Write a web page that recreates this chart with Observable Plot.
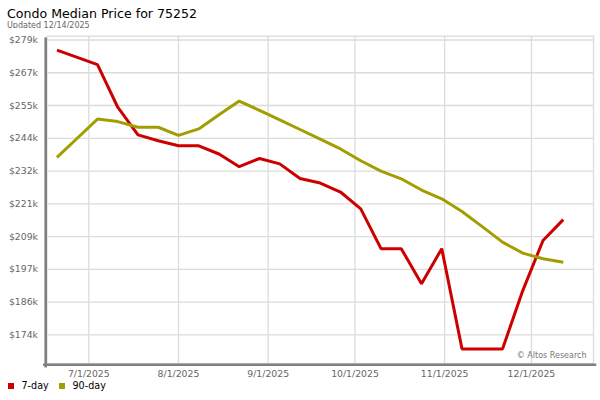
<!DOCTYPE html>
<html><head><meta charset="utf-8">
<script src="https://cdn.jsdelivr.net/npm/d3@7"></script>
<script src="https://cdn.jsdelivr.net/npm/@observablehq/plot@0.6"></script>
<style>
body{margin:0;background:#fff;font-family:"DejaVu Sans",sans-serif;}
#wrap{position:relative;width:600px;height:400px;overflow:hidden;background:#fff}
#title{position:absolute;left:7px;top:7.4px;font-size:12.6px;line-height:13px;color:#000;white-space:nowrap}
#sub{position:absolute;left:7px;top:20.6px;font-size:8px;line-height:9px;color:#666;white-space:nowrap}
#chart{position:absolute;left:0;top:28px}
#legend{position:absolute;left:0;top:380px;font-size:9.6px;line-height:12px;color:#000;white-space:nowrap}
.sw{position:absolute;top:3px;width:5.5px;height:5.5px}
.lt{position:absolute;top:0}
</style>
</head><body>
<div id="wrap">
  <div id="title">Condo Median Price for 75252</div>
  <div id="sub">Updated 12/14/2025</div>
  <div id="chart"></div>
  <div id="legend"></div>
</div>
<script>
// ---- data ----
const dates = ["2025-06-20","2025-06-27","2025-07-04","2025-07-11","2025-07-18","2025-07-25",
  "2025-08-01","2025-08-08","2025-08-15","2025-08-22","2025-08-29","2025-09-05","2025-09-12",
  "2025-09-19","2025-09-26","2025-10-03","2025-10-10","2025-10-17","2025-10-24","2025-10-31",
  "2025-11-07","2025-11-14","2025-11-21","2025-11-28","2025-12-05","2025-12-12"];
const day7 = [275100,272500,269900,254800,245000,242900,241100,241100,238200,233700,236600,234700,229500,
  227900,224700,218700,204600,204600,192100,204600,169000,169000,169000,189700,207500,214900];
const day90 = [237000,243800,250600,249700,247700,247700,244800,247100,252100,257000,253700,250300,246900,
  243500,240000,235800,232100,229400,225400,222300,217800,212400,206900,203000,201000,199800];
const yTickValues = [174000,185630,197260,208890,220520,232150,243780,255410,267040,278670];
const yTickLabels = ["$174k","$186k","$197k","$209k","$221k","$232k","$244k","$255k","$267k","$279k"];
const xTickDates = ["2025-07-01","2025-08-01","2025-09-01","2025-10-01","2025-11-01","2025-12-01"];
const xTickLabels = ["7/1/2025","8/1/2025","9/1/2025","10/1/2025","11/1/2025","12/1/2025"];
const seriesNames = ["7-day","90-day"];
const seriesColors = ["#cc0000","#a39e00"];

// ---- build ----
const parse = s => new Date(s + "T00:00:00Z");
const rows = [];
dates.forEach((d,i) => {
  rows.push({date: parse(d), value: day7[i], series: seriesNames[0]});
  rows.push({date: parse(d), value: day90[i], series: seriesNames[1]});
});
const xTicks = xTickDates.map(parse);
const xLabel = new Map(xTicks.map((d,i)=>[+d, xTickLabels[i]]));
const yLabel = new Map(yTickValues.map((v,i)=>[v, yTickLabels[i]]));

const chart = Plot.plot({
  width: 600,
  height: 354,
  marginLeft: 46.5,
  marginRight: 7,
  marginTop: 7.7,
  marginBottom: 19,
  style: {fontFamily: "DejaVu Sans, sans-serif", background: "#fff"},
  x: {type: "utc", domain: [new Date("2025-06-16T13:12:00Z"), new Date("2025-12-22T10:48:00Z")]},
  y: {domain: [163820, 280020]},
  color: {domain: seriesNames, range: seriesColors},
  marks: [
    Plot.gridY(yTickValues, {stroke: "#dcdcdc", strokeOpacity: 1, strokeWidth: 1.3}),
    Plot.gridX(xTicks, {stroke: "#dcdcdc", strokeOpacity: 1, strokeWidth: 1.3}),
    Plot.frame({stroke: "#dcdcdc", strokeWidth: 1.3}),
    Plot.axisY(yTickValues, {tickSize: 0, tickPadding: 9, fontSize: 9.3, fill: "#666", tickFormat: v => yLabel.get(v), label: null}),
    Plot.axisX(xTicks, {tickSize: 0, tickPadding: 7, fontSize: 9.3, fill: "#666", tickFormat: d => xLabel.get(+d), label: null}),
    Plot.text(["© Altos Research"], {frameAnchor: "bottom-right", dx: -7, dy: -6, fontSize: 8, fill: "#777", textAnchor: "end", lineAnchor: "bottom"}),
    Plot.line(rows, {x: "date", y: "value", stroke: "series", z: "series", strokeWidth: 3, strokeLinejoin: "miter", strokeLinecap: "butt"}),
    Plot.frame({anchor: "left", stroke: "#808080", strokeWidth: 2.6, dx: -1.3, insetBottom: -2.6, insetTop: 2.5}),
    Plot.frame({anchor: "bottom", stroke: "#808080", strokeWidth: 2.6, dy: 1.3, insetLeft: -2.6, insetRight: -1.5})
  ]
});
document.getElementById("chart").appendChild(chart);

// legend
const leg = document.getElementById("legend");
const lpos = [{sw: 8, tx: 21.5}, {sw: 59.3, tx: 72.5}];
seriesNames.forEach((n,i) => {
  const s = document.createElement("span");
  s.className = "sw"; s.style.left = lpos[i].sw + "px"; s.style.background = seriesColors[i];
  const t = document.createElement("span");
  t.className = "lt"; t.style.left = lpos[i].tx + "px"; t.textContent = n;
  leg.appendChild(s); leg.appendChild(t);
});
</script>
</body></html>
